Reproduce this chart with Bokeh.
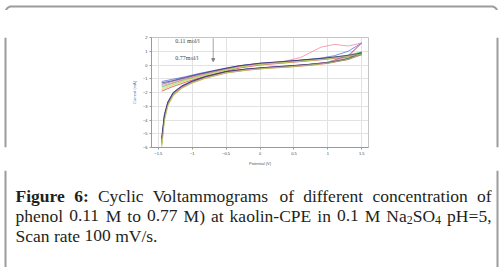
import math
from bokeh.plotting import figure
from bokeh.layouts import column, row
from bokeh.models import Label, Arrow, NormalHead, FixedTicker, Range1d
from bokeh.embed import file_html
from bokeh.resources import INLINE

# ---------------- data ----------------
E_fwd = [-1.45, -1.3, -1.1, -0.9, -0.7, -0.5, -0.3, 0.0, 0.3, 0.6, 0.9, 1.1, 1.3, 1.5]
E_rev = [1.5, 1.3, 1.0, 0.7, 0.4, 0.1, -0.2, -0.5, -0.8, -1.0, -1.15, -1.28, -1.36, -1.41, -1.45]

i_fwd_blank = [-1.2, -1.05, -0.85, -0.62, -0.42, -0.22, -0.05, 0.12, 0.22, 0.35, 0.5, 0.68, 1.0, 1.6]
i_rev_blank = [1.6, 0.7, 0.2, 0.02, -0.08, -0.18, -0.3, -0.45, -0.8, -1.15, -1.5, -2.0, -2.7, -3.7, -5.5]
i_fwd_011 = [-1.9, -1.6, -1.25, -0.95, -0.7, -0.45, -0.22, 0.0, 0.12, 0.25, 0.38, 0.48, 0.58, 0.75]
i_rev_011 = [0.75, 0.4, 0.12, -0.04, -0.16, -0.24, -0.38, -0.58, -0.95, -1.3, -1.65, -2.2, -2.9, -3.9, -5.7]
i_fwd_022 = [-1.6, -1.35, -1.05, -0.8, -0.55, -0.32, -0.12, 0.08, 0.2, 0.33, 0.46, 0.58, 0.72, 0.95]
i_rev_022 = [0.95, 0.5, 0.18, 0.02, -0.1, -0.2, -0.32, -0.52, -0.88, -1.22, -1.58, -2.1, -2.8, -3.8, -5.8]
i_fwd_033 = [-1.7, -1.45, -1.1, -0.82, -0.58, -0.35, -0.14, 0.06, 0.18, 0.3, 0.43, 0.55, 0.68, 0.85]
i_rev_033 = [0.85, 0.45, 0.15, 0.0, -0.12, -0.22, -0.34, -0.55, -0.92, -1.28, -1.65, -2.2, -2.95, -4.0, -5.9]
i_fwd_044 = [-1.4, -1.2, -0.95, -0.7, -0.48, -0.26, -0.06, 0.12, 0.22, 0.34, 0.46, 0.56, 0.66, 0.8]
i_rev_044 = [0.8, 0.42, 0.16, 0.02, -0.09, -0.18, -0.3, -0.5, -0.85, -1.2, -1.55, -2.05, -2.75, -3.7, -5.4]
i_fwd_055 = [-1.5, -1.3, -1.0, -0.75, -0.5, -0.28, -0.08, 0.1, 0.2, 0.55, 1.3, 1.5, 1.38, 1.6]
i_rev_055 = [1.6, 0.6, 0.2, 0.03, -0.1, -0.2, -0.33, -0.52, -0.9, -1.25, -1.6, -2.15, -2.85, -3.9, -5.6]
i_fwd_066 = [-1.3, -1.15, -0.9, -0.66, -0.44, -0.24, -0.05, 0.13, 0.24, 0.36, 0.48, 0.58, 0.7, 0.88]
i_rev_066 = [0.88, 0.46, 0.17, 0.04, -0.07, -0.17, -0.29, -0.48, -0.84, -1.18, -1.52, -2.0, -2.7, -3.6, -5.3]
i_fwd_077 = [-1.8, -1.5, -1.15, -0.88, -0.62, -0.38, -0.16, 0.04, 0.16, 0.28, 0.4, 0.52, 0.64, 0.8]
i_rev_077 = [0.8, 0.42, 0.14, -0.01, -0.13, -0.23, -0.36, -0.57, -0.95, -1.3, -1.7, -2.25, -3.0, -4.1, -6.0]

series = [
    ("blank", i_fwd_blank, i_rev_blank, "#3b5bdb"),
    ("0.11", i_fwd_011, i_rev_011, "#d7301f"),
    ("0.22", i_fwd_022, i_rev_022, "#41ab5d"),
    ("0.33", i_fwd_033, i_rev_033, "#d4d42b"),
    ("0.44", i_fwd_044, i_rev_044, "#7b3fa0"),
    ("0.55", i_fwd_055, i_rev_055, "#f0758a"),
    ("0.66", i_fwd_066, i_rev_066, "#1f2a6e"),
    ("0.77", i_fwd_077, i_rev_077, "#a6d96a"),
]

x_ticks = [-1.5, -1, -0.5, 0, 0.5, 1, 1.5]
y_ticks = [-6, -5, -4, -3, -2, -1, 0, 1, 2]

BORDER = "#9c9c9c"
BW = 2
W, H = 500, 267
TOP_H = 10
SIDE_W = 10
CHART_H = 160
CAP_H = H - TOP_H - CHART_H


def blank_fig(w, h, xr, yr):
    f = figure(width=w, height=h, x_range=Range1d(*xr), y_range=Range1d(*yr),
               output_backend="svg", toolbar_location=None, title=None,
               x_axis_location=None, y_axis_location=None,
               min_border=0, min_border_left=0, min_border_right=0,
               min_border_top=0, min_border_bottom=0)
    f.grid.visible = False
    f.outline_line_color = None
    f.background_fill_color = "white"
    f.border_fill_color = "white"
    return f


# ---------------- top strip with rounded frame corners (page coords) ----------------
top = blank_fig(W, TOP_H, (0, W), (TOP_H, 0))
r = 6.0
n = 10
lx = [float(5 + r - r * math.cos(k * math.pi / 2 / n)) for k in range(n + 1)]
ly = [float(4 + r - r * math.sin(k * math.pi / 2 / n)) for k in range(n + 1)]
rx = [float(497 - r + r * math.sin(k * math.pi / 2 / n)) for k in range(n + 1)]
ry = [float(4 + r - r * math.cos(k * math.pi / 2 / n)) for k in range(n + 1)]
top.line(lx + rx, ly + ry, line_color=BORDER, line_width=BW)

# ---------------- side strips ----------------
left = blank_fig(SIDE_W, CHART_H, (0, SIDE_W), (CHART_H, 0))
left.line([5, 5], [0, CHART_H], line_color=BORDER, line_width=BW)
right = blank_fig(SIDE_W, CHART_H, (W - SIDE_W, W), (CHART_H, 0))
right.line([497, 497], [0, CHART_H], line_color=BORDER, line_width=BW)

# ---------------- chart ----------------
p = figure(width=W - 2 * SIDE_W, height=CHART_H, x_range=(-1.6, 1.6), y_range=(-6, 2),
           output_backend="svg", toolbar_location=None, title=None,
           min_border_left=141, min_border_right=122,
           min_border_top=27, min_border_bottom=23)
p.background_fill_color = "white"
p.border_fill_color = "white"
p.outline_line_color = "#c4c4c4"
p.outline_line_width = 1

for ax in (p.xaxis[0], p.yaxis[0]):
    ax.major_label_text_font = "Liberation Sans"
    ax.major_label_text_font_size = "4px"
    ax.major_label_text_color = "#444444"
    ax.axis_label_text_font = "Liberation Sans"
    ax.axis_label_text_font_size = "4px"
    ax.axis_label_text_font_style = "normal"
    ax.axis_line_color = "#9a9a9a"
    ax.major_tick_line_color = "#9a9a9a"
    ax.major_tick_out = 2
    ax.major_tick_in = 0
    ax.minor_tick_line_color = None
    ax.major_label_standoff = 2
    ax.axis_label_standoff = 3

p.xaxis.ticker = FixedTicker(ticks=x_ticks)
p.yaxis.ticker = FixedTicker(ticks=y_ticks)
p.xaxis.axis_label = "Potential (V)"
p.yaxis.axis_label = "Current (mA)"
p.yaxis.axis_label_text_color = "#5a74a8"
p.xaxis.axis_label_text_color = "#555555"
p.grid.grid_line_color = "#e2e2e2"
p.grid.grid_line_width = 1

for name, fwd, rev, col in series:
    p.line(E_fwd + E_rev, fwd + rev, line_color=col, line_width=0.8, line_alpha=0.85)

p.add_layout(Label(x=-1.25, y=1.78, text="0.11 mol/l", text_font="Liberation Serif",
                   text_font_size="6px", text_color="#444444", text_baseline="middle"))
p.add_layout(Label(x=-1.25, y=0.53, text="0.77mol/l", text_font="Liberation Serif",
                   text_font_size="6px", text_color="#444444", text_baseline="middle"))
p.add_layout(Arrow(x_start=-0.69, y_start=1.95, x_end=-0.69, y_end=0.25,
                   line_color="#808080", line_width=0.7,
                   end=NormalHead(size=3, line_color="#808080", fill_color="#808080")))

# ---------------- caption (page coordinates) ----------------
cap = blank_fig(W, CAP_H, (0, W), (H, TOP_H + CHART_H))
cap.line([5, 5], [TOP_H + CHART_H, H], line_color=BORDER, line_width=BW)
cap.line([497, 497], [TOP_H + CHART_H, H], line_color=BORDER, line_width=BW)

TIMES = {' ': 250, 'a': 444, 'b': 500, 'c': 444, 'd': 500, 'e': 444, 'f': 333, 'g': 500,
         'h': 500, 'i': 278, 'j': 278, 'k': 500, 'l': 278, 'm': 778, 'n': 500, 'o': 500,
         'p': 500, 'q': 500, 'r': 333, 's': 389, 't': 278, 'u': 500, 'v': 500, 'w': 722,
         'x': 500, 'y': 500, 'z': 444, 'A': 722, 'C': 667, 'E': 611, 'F': 556, 'H': 722,
         'M': 889, 'N': 722, 'O': 722, 'P': 556, 'S': 556, 'V': 722, '.': 250, ':': 278,
         ')': 333, '(': 333, '-': 333, '=': 564, ',': 250, '/': 278}
TIMES_B = {'F': 611, 'i': 278, 'g': 500, 'u': 556, 'r': 444, 'e': 444, ':': 333}

FS = 17.5
SUB = 12.0
cap_color = "#231f20"


def w(s, bold=False, size=FS):
    tot = 0
    for ch in s:
        if ch.isdigit():
            tot += 500
        elif bold:
            tot += TIMES_B.get(ch, TIMES.get(ch, 500))
        else:
            tot += TIMES.get(ch, 500)
    return tot * size / 1000.0


def word_width(word):
    return sum(w(t, b, SUB if sub else FS) for t, b, sub in word)


def put(x, y, text, bold=False, sub=False):
    cap.add_layout(Label(x=x, y=y + (4 if sub else 0), text=text,
                         text_font="Liberation Serif",
                         text_font_size=f"{SUB if sub else FS}px",
                         text_font_style="bold" if bold else "normal",
                         text_color=cap_color, text_baseline="alphabetic",
                         text_align="left"))


def line(words, y, x0=15, x1=491, justify=True):
    widths = [word_width(wd) for wd in words]
    if justify and len(words) > 1:
        gap = (x1 - x0 - sum(widths)) / (len(words) - 1)
    else:
        gap = FS * 0.25
    x = x0
    for wd, ww in zip(words, widths):
        xx = x
        for t, b, sub in wd:
            put(xx, y, t, b, sub)
            xx += w(t, b, SUB if sub else FS)
        x += ww + gap


def R(t):
    return [(t, False, False)]


line1 = [[("Figure", True, False)], [("6:", True, False)], R("Cyclic"), R("Voltammograms"),
         R("of"), R("different"), R("concentration"), R("of")]
line2 = [R("phenol"), R("0.11"), R("M"), R("to"), R("0.77"), R("M)"), R("at"),
         R("kaolin-CPE"), R("in"), R("0.1"), R("M"),
         [("Na", False, False), ("2", False, True), ("SO", False, False), ("4", False, True)],
         R("pH=5,")]
line3 = [R("Scan"), R("rate"), R("100"), R("mV/s.")]

line(line1, 195)
line(line2, 215)
line(line3, 235, justify=False)

layout = column(top, row(left, p, right), cap)
open("out.html", "w").write(file_html(layout, INLINE))
